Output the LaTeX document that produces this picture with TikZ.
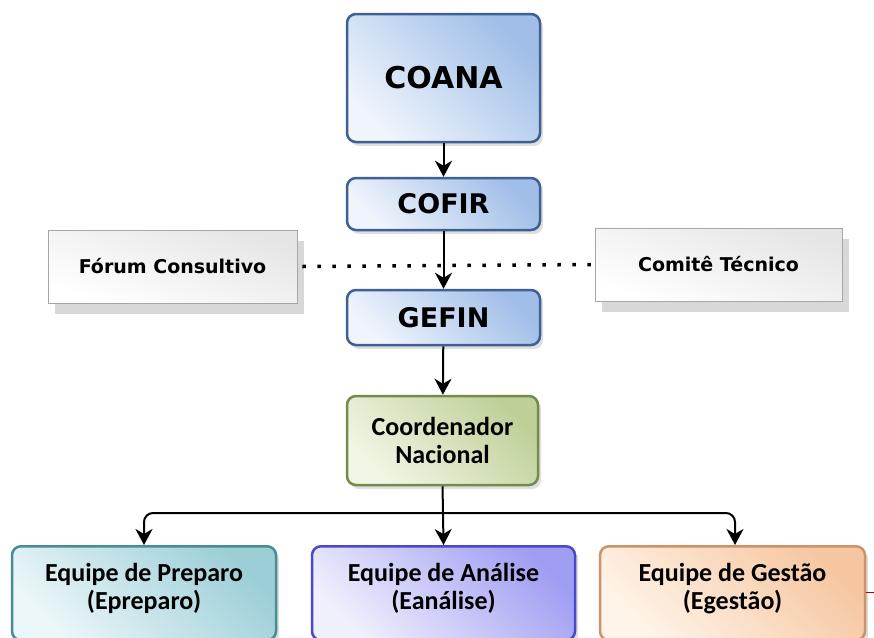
\documentclass[tikz,border=0pt]{standalone}
\usepackage{fontspec}
\setmainfont{Carlito}
\newfontfamily\wide{DejaVu Sans}
\usetikzlibrary{arrows.meta,shadows,positioning}
\definecolor{bluebd}{RGB}{62,96,148}
\definecolor{bluelt}{RGB}{240,245,252}
\definecolor{bluedk}{RGB}{160,190,232}
\definecolor{greenbd}{RGB}{118,138,76}
\definecolor{greenlt}{RGB}{242,246,230}
\definecolor{greendk}{RGB}{190,208,152}
\definecolor{tealbd}{RGB}{72,140,152}
\definecolor{teallt}{RGB}{236,247,249}
\definecolor{tealdk}{RGB}{156,206,216}
\definecolor{purpbd}{RGB}{76,72,204}
\definecolor{purplt}{RGB}{240,240,253}
\definecolor{purpdk}{RGB}{160,158,242}
\definecolor{orbd}{RGB}{204,146,104}
\definecolor{orlt}{RGB}{255,244,233}
\definecolor{ordk}{RGB}{246,198,160}
\tikzset{
  box/.style={rounded corners=9pt, line width=2.5pt, align=center, font=\bfseries,
    drop shadow={shadow xshift=3pt, shadow yshift=-4pt, opacity=0.25}},
  bluebox/.style={box, draw=bluebd, left color=bluelt, right color=bluedk, shading angle=135},
  greenbox/.style={box, draw=greenbd, left color=greenlt, right color=greendk, shading angle=135},
  tealbox/.style={box, draw=tealbd, left color=teallt, right color=tealdk, shading angle=135},
  purpbox/.style={box, draw=purpbd, left color=purplt, right color=purpdk, shading angle=135},
  orbox/.style={box, draw=orbd, left color=orlt, right color=ordk, shading angle=135},
  graybox/.style={draw=black!35, line width=0.8pt, left color=white, right color=black!10, shading angle=160,
    font=\wide\bfseries\fontsize{19}{22}\selectfont,
    drop shadow={shadow xshift=7pt, shadow yshift=-11pt, opacity=0.3}},
  bluetext/.style={font=\wide\bfseries\fontsize{27}{30}\selectfont},
  teamtext/.style={font=\bfseries\fontsize{26}{28}\selectfont},
  arr/.style={-{Stealth[length=16pt,width=17pt,inset=5pt]}, line width=2pt},
  dots/.style={line width=3.5pt, dash pattern=on 3.5pt off 11.5pt},
}
\begin{document}
\begin{tikzpicture}[x=1pt,y=-1pt]
\useasboundingbox (0,0) rectangle (874,637);
\clip (0,0) rectangle (874,637);
\fill[white] (0,0) rectangle (874,637);
% gray side boxes
\node[graybox, minimum width=249pt, minimum height=73pt] (forum) at (172.5,266.5) {Fórum Consultivo};
\node[graybox, minimum width=247pt, minimum height=73pt] (comite) at (718.5,264.5) {Comitê Técnico};
% main boxes
\node[bluebox, minimum width=193pt, minimum height=128pt, font=\wide\bfseries\fontsize{30}{34}\selectfont] (coana) at (443.5,78) {COANA};
\node[bluebox, bluetext, minimum width=193pt, minimum height=52pt] (cofir) at (443.5,204) {COFIR};
\node[bluebox, bluetext, minimum width=193pt, minimum height=55pt] (gefin) at (443.5,317.5) {GEFIN};
\node[greenbox, teamtext, minimum width=191pt, minimum height=89pt] (coord) at (442.5,440.5) {Coordenador\\Nacional};
\node[tealbox, teamtext, minimum width=264pt, minimum height=94pt, anchor=north] (prep) at (144,545) {Equipe de Preparo\\(Epreparo)\\[-14pt]\mbox{}};
\node[purpbox, teamtext, minimum width=263pt, minimum height=94pt, anchor=north] (anal) at (443.5,545) {Equipe de Análise\\(Eanálise)\\[-14pt]\mbox{}};
\node[orbox, teamtext, minimum width=265pt, minimum height=94pt, anchor=north] (gest) at (732.5,545) {Equipe de Gestão\\(Egestão)\\[-14pt]\mbox{}};
% dotted line
\draw[dots] ([xshift=5pt]forum.east) -- (comite.west);
% arrows
\draw[arr] (coana) -- (cofir);
\draw[arr] (cofir) -- (gefin);
\draw[arr] (gefin) -- (coord);
\coordinate (split) at (443,513);
\draw[line width=2pt] (coord.south) -- (split);
\draw[arr, rounded corners=9pt] (split) -| (prep.north);
\draw[arr, rounded corners=9pt] (split) -| ([xshift=2.5pt]gest.north);
\draw[arr] (split) -- (anal.north);
% small red mark
\coordinate (redend) at (874,592);
\draw[red!70!black, line width=1pt] (gest.east |- redend) -- (redend);
\end{tikzpicture}
\end{document}
